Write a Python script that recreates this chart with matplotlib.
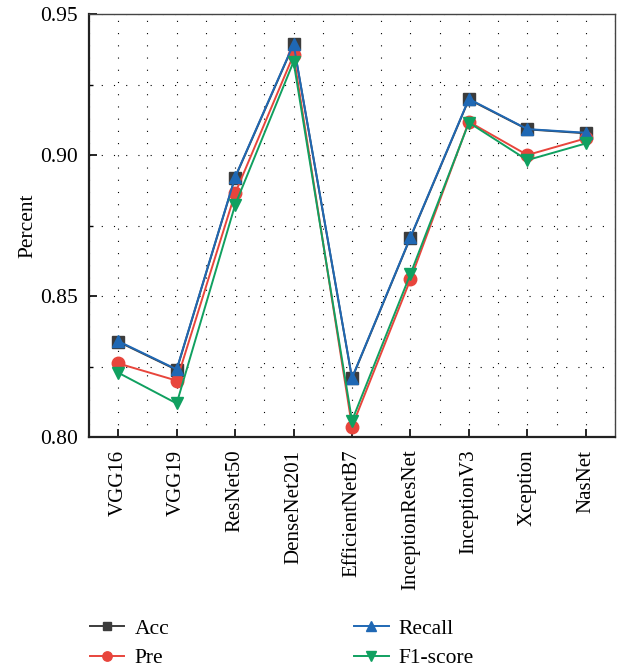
import numpy as np
import matplotlib
matplotlib.use("Agg")
import matplotlib.pyplot as plt
from matplotlib.ticker import MultipleLocator

plt.rcParams['font.family'] = ['Liberation Serif', 'DejaVu Serif']

# Data
models = ["VGG16", "VGG19", "ResNet50", "DenseNet201", "EfficientNetB7",
          "InceptionResNet", "InceptionV3", "Xception", "NasNet"]
acc = [0.8338, 0.8238, 0.8920, 0.9392, 0.8208, 0.8707, 0.9197, 0.9091, 0.9077]
pre = [0.8261, 0.8200, 0.8864, 0.9355, 0.8037, 0.8559, 0.9118, 0.9000, 0.9059]
recall = [0.8340, 0.8240, 0.8922, 0.9394, 0.8210, 0.8709, 0.9199, 0.9092, 0.9079]
f1 = [0.8228, 0.8119, 0.8823, 0.9331, 0.8058, 0.8578, 0.9115, 0.8982, 0.9041]

x = np.arange(len(models))

fig = plt.figure(figsize=(6.19, 6.71), dpi=100)
ax = fig.add_axes([0.1438, 0.3487, 0.8497, 0.6304])

ax.plot(x, acc, color="#3c3c3c", marker="s", ms=8, lw=1.4, label="Acc")
ax.plot(x, pre, color="#e8453c", marker="o", ms=9, lw=1.4, label="Pre")
ax.plot(x, recall, color="#1f68b4", marker="^", ms=9, lw=1.4, label="Recall")
ax.plot(x, f1, color="#10a060", marker="v", ms=9, lw=1.4, label="F1-score")

ax.set_xlim(-0.5, len(models) - 0.5)
ax.set_ylim(0.80, 0.95)
ax.set_xticks(x)
ax.set_xticklabels(models, rotation=90, fontsize=15)
ax.xaxis.set_minor_locator(MultipleLocator(0.5))
ax.yaxis.set_major_locator(MultipleLocator(0.05))
ax.yaxis.set_minor_locator(MultipleLocator(0.025))
ax.yaxis.set_major_formatter(matplotlib.ticker.FormatStrFormatter("%.2f"))
ax.tick_params(axis="both", which="major", direction="in", length=6, width=1.2, labelsize=15)
ax.tick_params(axis="y", which="major", labelsize=15.5, pad=8)
ax.tick_params(axis="x", which="major", pad=9)
ax.tick_params(axis="both", which="minor", direction="in", length=3, width=1)
ax.tick_params(axis="x", which="minor", length=0)
ax.tick_params(top=False, right=False)
ax.set_ylabel("Percent", fontsize=15.5, labelpad=2)

ax.grid(True, which="both", color="black", lw=0.8, linestyle=(0, (1, 10)))
ax.set_axisbelow(True)

for side in ["left", "bottom"]:
    ax.spines[side].set_linewidth(1.6)
    ax.spines[side].set_color("#222222")
for side in ["top", "right"]:
    ax.spines[side].set_linewidth(1.0)
    ax.spines[side].set_color("#444444")

fig.legend(loc="lower left", bbox_to_anchor=(0.145, 0.004), ncol=2, frameon=False,
           fontsize=15.5, columnspacing=8.6, handlelength=1.6, labelspacing=0.45,
           handletextpad=0.47, markerscale=0.75, borderpad=0, borderaxespad=0)

fig.savefig("out.png", dpi=100)
